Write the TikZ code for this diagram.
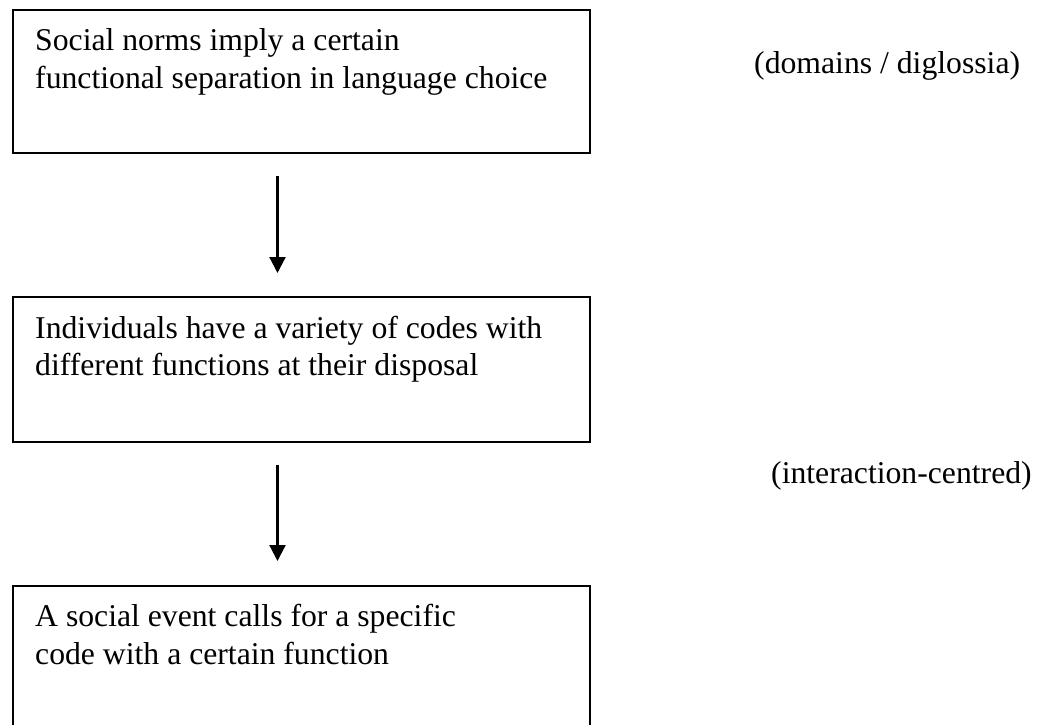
\documentclass[tikz,border=0pt]{standalone}
\usepackage{fontspec}
\setmainfont{Liberation Serif}
\usetikzlibrary{arrows.meta}

\begin{document}
\begin{tikzpicture}[
  x=1pt, y=-1pt,
  stagebox/.style={draw=black, line width=2pt, rectangle, outer sep=0pt,
    inner sep=0pt, minimum width=577pt, anchor=north west},
  boxtext/.style={anchor=north west, inner sep=0pt, align=left,
    font=\fontsize{31.7}{37.5}\selectfont},
  sidenote/.style={anchor=base west, inner sep=0pt,
    font=\fontsize{31.7}{37.5}\selectfont},
  flow/.style={draw=black, line width=2.2pt,
    -{Triangle[width=16pt,length=16pt]}},
]
\useasboundingbox (0,0) rectangle (1041,724);

% three stages, top to bottom (the last one runs off the page)
\node[stagebox, minimum height=143.5pt] (b1) at (12.5,9.5) {};
\node[stagebox, minimum height=145pt]   (b2) at (12.5,297) {};
\node[stagebox, minimum height=170pt]   (b3) at (12.5,585.5) {};

% stage texts (first baseline about 41pt below the box top)
\node[boxtext] (t1) at (35,24.25)
  {\strut Social norms imply a certain\\functional separation in language choice};
\node[boxtext] (t2) at (35,311.75)
  {\strut Individuals have a variety of codes with\\different functions at their disposal};
\node[boxtext] (t3) at (35,600.25)
  {\strut A social event calls for a specific\\code with a certain function};

% notes on the right
\node[sidenote] (n1) at (754,73) {(domains / diglossia)};
\node[sidenote] (n2) at (771,483) {(interaction-centred)};

% connectors
\coordinate (ax) at (277.5,0);
\draw[flow, shorten <=23pt, shorten >=24pt] (b1.south -| ax) -- (b2.north -| ax);
\draw[flow, shorten <=22.5pt, shorten >=24.5pt] (b2.south -| ax) -- (b3.north -| ax);
\end{tikzpicture}
\end{document}
